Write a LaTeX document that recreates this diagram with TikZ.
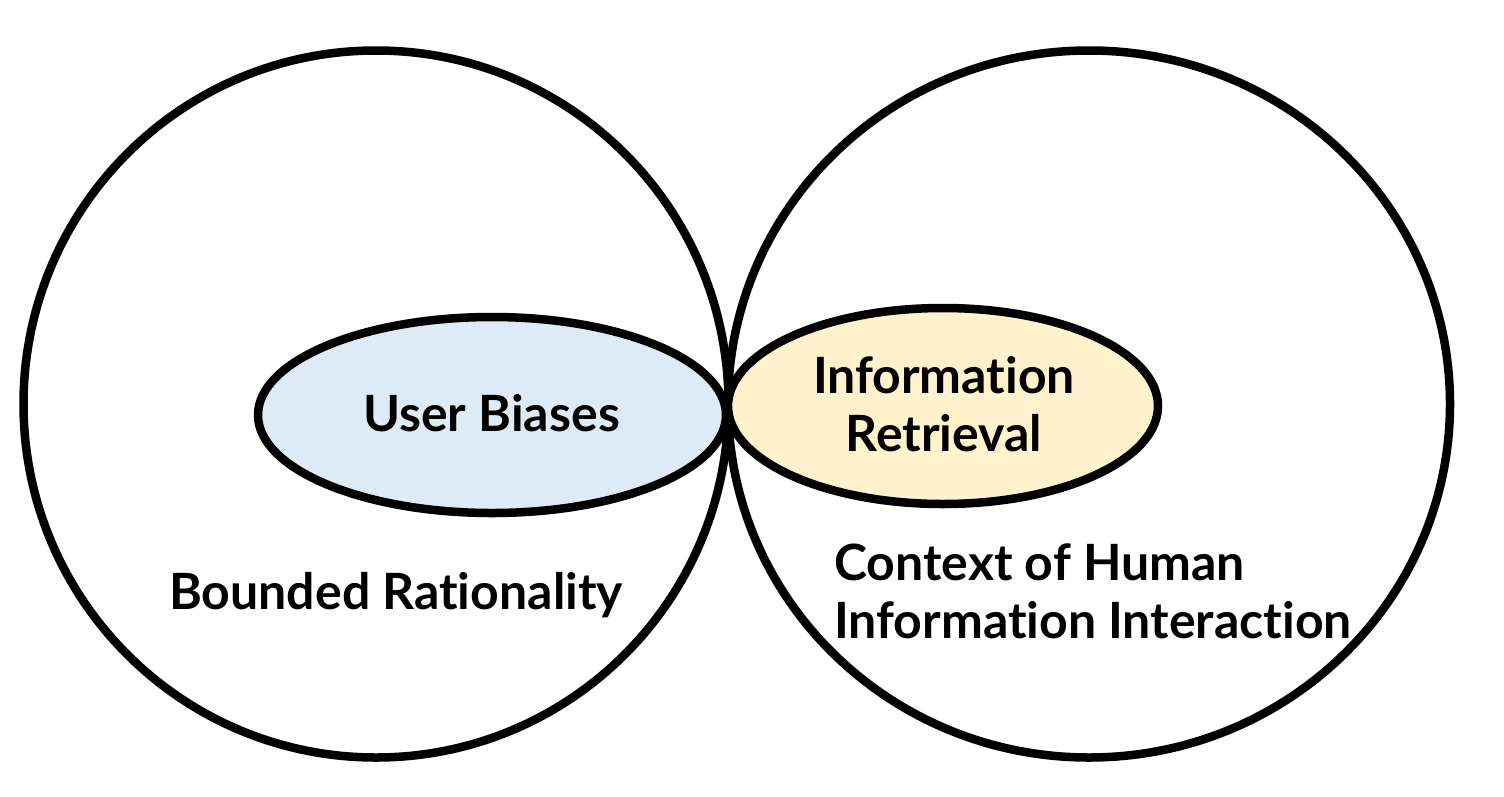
\documentclass[tikz,border=0pt]{standalone}
\usepackage{fontspec}
\setmainfont{Lato}[Ligatures={NoCommon}]
\usetikzlibrary{shapes.geometric}
\definecolor{biasblue}{HTML}{DEEBF7}
\definecolor{iryellow}{HTML}{FFF2CC}
\tikzset{
  ring/.style={draw=black, line width=8.5pt, ellipse, inner sep=0pt, fill=none},
  blob/.style={draw=black, line width=8.5pt, ellipse, inner sep=0pt},
  lbl/.style={font=\fontsize{50}{58}\selectfont\bfseries, inner sep=0pt, text=black}
}
\begin{document}
\begin{tikzpicture}[x=1pt,y=-1pt]
\useasboundingbox[fill=white] (0,0) rectangle (1504,796);
\node[ring, minimum width=705pt, minimum height=707pt] (left) at (376,404) {};
\node[ring, minimum width=722pt, minimum height=707pt] (right) at (1089,404) {};
\node[blob, fill=biasblue, minimum width=468pt, minimum height=196pt] (ub) at (492,415) {};
\node[blob, fill=iryellow, minimum width=430pt, minimum height=196pt] (ir) at (943,406) {};
\node[lbl, anchor=base] (ubt) at (491.5,431.5) {User Biases};
\node[lbl, anchor=base] (br) at (396,609) {Bounded Rationality};
\node[lbl, anchor=base, align=center] (irt) at (944,451) {Information\\Retrieval};
\node[lbl, anchor=base west, align=left] (ctx) at (834,638) {Context of Human\\Information Interaction};
\end{tikzpicture}
\end{document}
